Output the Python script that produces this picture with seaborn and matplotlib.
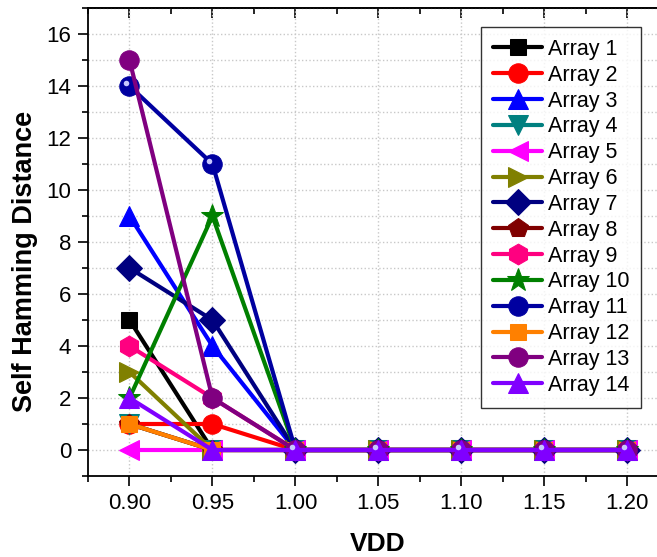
import pandas as pd
import matplotlib.pyplot as plt
import seaborn as sns
from matplotlib.ticker import MultipleLocator

vdd = [0.90, 0.95, 1.00, 1.05, 1.10, 1.15, 1.20]

array1 = [5, 0, 0, 0, 0, 0, 0]
array2 = [1, 1, 0, 0, 0, 0, 0]
array3 = [9, 4, 0, 0, 0, 0, 0]
array4 = [1, 0, 0, 0, 0, 0, 0]
array5 = [0, 0, 0, 0, 0, 0, 0]
array6 = [3, 0, 0, 0, 0, 0, 0]
array7 = [7, 5, 0, 0, 0, 0, 0]
array8 = [1, 0, 0, 0, 0, 0, 0]
array9 = [4, 2, 0, 0, 0, 0, 0]
array10 = [2, 9, 0, 0, 0, 0, 0]
array11 = [14, 11, 0, 0, 0, 0, 0]
array12 = [1, 0, 0, 0, 0, 0, 0]
array13 = [15, 2, 0, 0, 0, 0, 0]
array14 = [2, 0, 0, 0, 0, 0, 0]

names = ["Array %d" % i for i in range(1, 15)]
series = [array1, array2, array3, array4, array5, array6, array7,
          array8, array9, array10, array11, array12, array13, array14]

colors = ["#000000", "#FF0000", "#0000FF", "#008080", "#FF00FF", "#808000",
          "#000080", "#800000", "#FF0080", "#008000", "#0000A0", "#FF8000",
          "#800080", "#8000FF"]
markers = ["s", "o", "^", "v", "<", ">", "D", "p", "h", "*", "o", "s", "o", "^"]
msizes = [12, 14, 15, 15, 15, 15, 13, 15, 15, 17, 14, 12, 14, 15]

rows = []
for name, vals in zip(names, series):
    for x, y in zip(vdd, vals):
        rows.append({"VDD": x, "SHD": y, "array": name})
df = pd.DataFrame(rows)

sns.set_style("ticks")
plt.rcParams["font.family"] = ["Liberation Sans", "DejaVu Sans"]
plt.rcParams["text.color"] = "black"
plt.rcParams["axes.labelcolor"] = "black"
plt.rcParams["xtick.color"] = "black"
plt.rcParams["ytick.color"] = "black"

fig = plt.figure(figsize=(6.57, 5.57), dpi=100)
ax = fig.add_axes([88 / 657, 1 - 476 / 557, 580 / 657, 468 / 557])

for name, c, m, ms in zip(names, colors, markers, msizes):
    sub = df[df["array"] == name]
    sns.lineplot(data=sub, x="VDD", y="SHD", ax=ax, color=c, marker=m,
                 markersize=ms, markeredgecolor=c, linewidth=3,
                 label=name, zorder=3)

# highlight on the "ball" markers of Array 11
sub = df[df["array"] == "Array 11"]
ax.plot(sub["VDD"] - 0.002, sub["SHD"] + 0.12, linestyle="none", marker="o",
        markersize=4, color="#C8C8FF", markeredgewidth=0, zorder=4)

ax.set_xlim(0.875, 1.2245)
ax.set_ylim(-1, 17)
ax.set_xticks(vdd)
ax.set_xticklabels(["%.2f" % v for v in vdd])
ax.xaxis.set_minor_locator(MultipleLocator(0.025))
ax.set_yticks(range(0, 17, 2))
ax.yaxis.set_minor_locator(MultipleLocator(1))

ax.grid(True, which="major", axis="x", linestyle=":", color="#c8c8c8", linewidth=1)
ax.grid(True, which="both", axis="y", linestyle=":", color="#c8c8c8", linewidth=1)
ax.set_axisbelow(True)

ax.tick_params(which="major", direction="out", length=7, width=1.2,
               labelsize=16, pad=5)
ax.tick_params(which="minor", direction="out", length=4, width=1.2)
for sp in ax.spines.values():
    sp.set_linewidth(1.3)
    sp.set_color("black")

# inward ticks along the top edge
top = ax.secondary_xaxis("top")
top.set_xticks(vdd)
top.xaxis.set_minor_locator(MultipleLocator(0.025))
top.tick_params(which="major", direction="in", length=7, width=1.2,
                labeltop=False)
top.tick_params(which="minor", direction="in", length=4, width=1.2)
top.spines["top"].set_linewidth(1.3)

ax.set_xlabel("VDD", fontsize=19, fontweight="bold", labelpad=13)
ax.set_ylabel("Self Hamming Distance", fontsize=19.5, fontweight="bold")
ax.yaxis.set_label_coords(-0.086, 0.459)

leg = ax.legend(loc="upper left", bbox_to_anchor=(393 / 580, 1 - 19 / 468),
                fontsize=15.5, handlelength=2.3, labelspacing=0.225,
                frameon=True, fancybox=False, edgecolor="black",
                borderpad=0.55, handletextpad=0.25, borderaxespad=0)
leg.get_frame().set_linewidth(1.0)

fig.savefig("out.png", dpi=100)
